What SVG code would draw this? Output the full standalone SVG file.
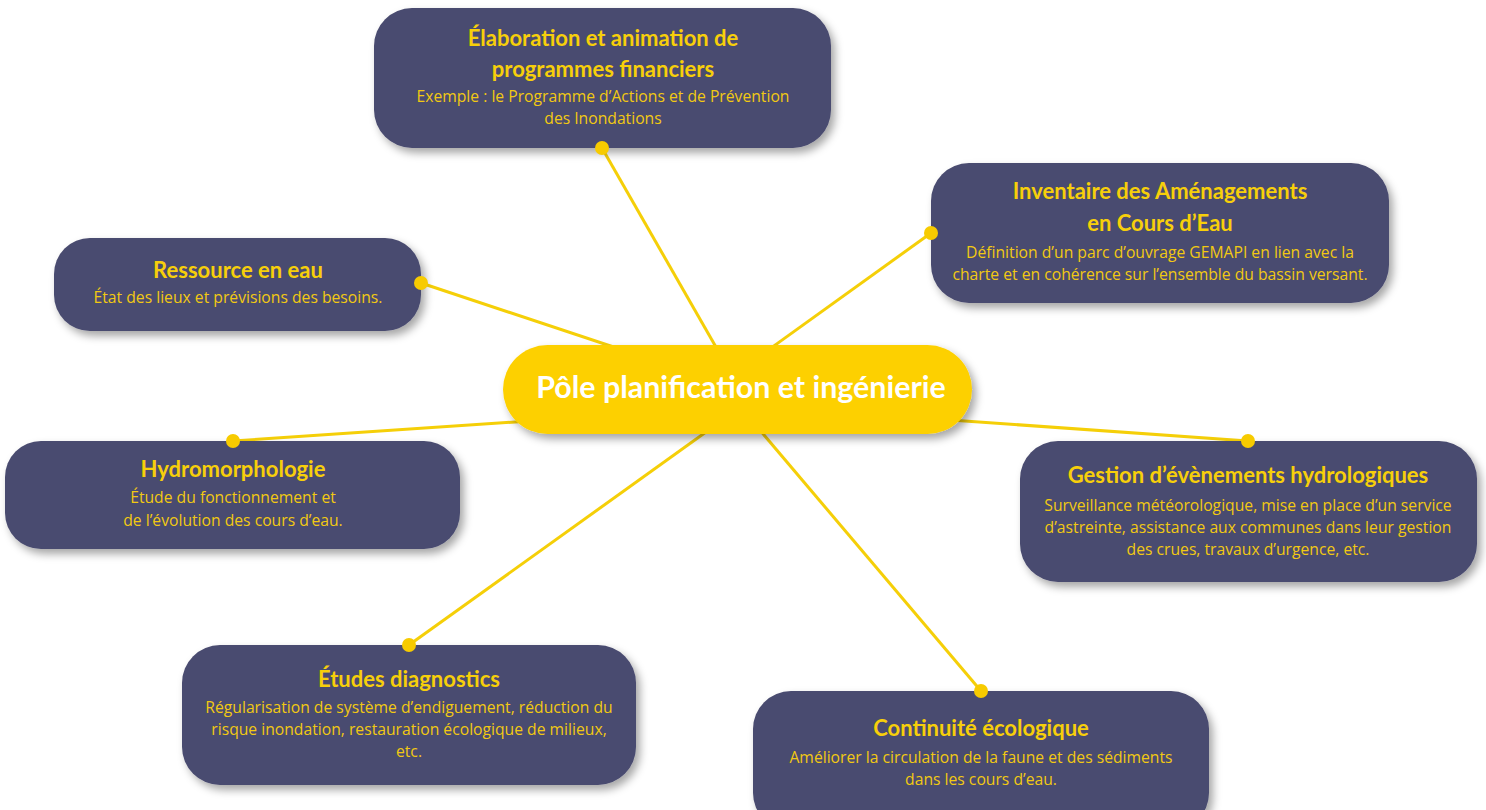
<svg xmlns="http://www.w3.org/2000/svg" width="1486" height="810" viewBox="0 0 1486 810">
<defs>
<filter id="sh" x="-10%" y="-20%" width="125%" height="150%">
<feDropShadow dx="4" dy="5" stdDeviation="4" flood-color="#000" flood-opacity="0.35"/>
</filter>
<style>
.box{fill:#4a4b6f;filter:url(#sh)}
.t{font-family:Lato,"Open Sans",sans-serif;font-weight:700;font-size:22px;fill:#f7cf0a;text-anchor:middle}
.b{font-family:"Open Sans","Noto Sans",sans-serif;font-size:15.7px;fill:#f2c912;text-anchor:middle}
.ln{stroke:#f5cf08;stroke-width:3;fill:none}
.dot{fill:#f7cb00}
.c{fill:#fdd000;filter:url(#sh)}
.ct{font-family:Lato,"Open Sans",sans-serif;font-weight:700;font-size:30.4px;fill:#ffffff;text-anchor:middle}
</style>
</defs>
<rect width="1486" height="810" fill="#ffffff"/>
<g id="connectors">
<line class="ln" x1="602" y1="148" x2="740" y2="389"/>
<line class="ln" x1="931" y1="233" x2="714" y2="389"/>
<line class="ln" x1="421" y1="283" x2="740" y2="389"/>
<line class="ln" x1="233" y1="441" x2="738" y2="407"/>
<line class="ln" x1="1248" y1="441" x2="738" y2="405"/>
<line class="ln" x1="409" y1="645" x2="766" y2="389"/>
<line class="ln" x1="981" y1="691" x2="725" y2="389"/>
</g>
<g id="center">
<rect class="c" x="503" y="345" width="469" height="89" rx="44.5"/>
<text class="ct" x="741" y="398">Pôle planification et ingénierie</text>
</g>
<g id="n-elaboration">
<rect class="box" x="374" y="8" width="457" height="140" rx="38"/>
<text class="t" x="603" y="46">Élaboration et animation de</text>
<text class="t" x="603" y="77">programmes financiers</text>
<text class="b" x="603" y="102">Exemple : le Programme d’Actions et de Prévention</text>
<text class="b" x="603" y="124">des Inondations</text>
<circle class="dot" cx="602" cy="148" r="7"/>
</g>
<g id="n-inventaire">
<rect class="box" x="931" y="163" width="458" height="140" rx="38"/>
<text class="t" x="1160" y="199">Inventaire des Aménagements</text>
<text class="t" x="1160" y="231">en Cours d’Eau</text>
<text class="b" x="1160" y="258">Définition d’un parc d’ouvrage GEMAPI en lien avec la</text>
<text class="b" x="1160" y="280">charte et en cohérence sur l’ensemble du bassin versant.</text>
<circle class="dot" cx="931" cy="233" r="7"/>
</g>
<g id="n-ressource">
<rect class="box" x="54" y="238" width="367" height="93" rx="36"/>
<text class="t" x="238" y="278">Ressource en eau</text>
<text class="b" x="238" y="303">État des lieux et prévisions des besoins.</text>
<circle class="dot" cx="421" cy="283" r="7"/>
</g>
<g id="n-hydromorphologie">
<rect class="box" x="5" y="441" width="455" height="108" rx="36"/>
<text class="t" x="233" y="477">Hydromorphologie</text>
<text class="b" x="233" y="503">Étude du fonctionnement et</text>
<text class="b" x="233" y="526">de l’évolution des cours d’eau.</text>
<circle class="dot" cx="233" cy="441" r="7"/>
</g>
<g id="n-gestion">
<rect class="box" x="1020" y="441" width="457" height="141" rx="38"/>
<text class="t" x="1248" y="483">Gestion d’évènements hydrologiques</text>
<text class="b" x="1248" y="511">Surveillance météorologique, mise en place d’un service</text>
<text class="b" x="1248" y="533">d’astreinte, assistance aux communes dans leur gestion</text>
<text class="b" x="1248" y="555">des crues, travaux d’urgence, etc.</text>
<circle class="dot" cx="1248" cy="441" r="7"/>
</g>
<g id="n-etudes">
<rect class="box" x="182" y="645" width="454" height="140" rx="38"/>
<text class="t" x="409" y="687">Études diagnostics</text>
<text class="b" x="409" y="713">Régularisation de système d’endiguement, réduction du</text>
<text class="b" x="409" y="735">risque inondation, restauration écologique de milieux,</text>
<text class="b" x="409" y="757">etc.</text>
<circle class="dot" cx="409" cy="645" r="7"/>
</g>
<g id="n-continuite">
<rect class="box" x="753" y="691" width="456" height="140" rx="38"/>
<text class="t" x="981" y="736">Continuité écologique</text>
<text class="b" x="981" y="763">Améliorer la circulation de la faune et des sédiments</text>
<text class="b" x="981" y="785">dans les cours d’eau.</text>
<circle class="dot" cx="981" cy="691" r="7"/>
</g>
</svg>
